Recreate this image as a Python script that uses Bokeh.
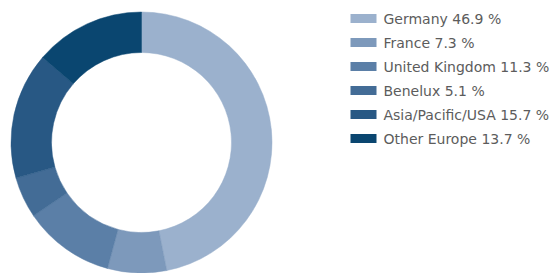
import numpy as np
from bokeh.plotting import figure
from bokeh.models import Range1d, ColumnDataSource
from bokeh.core.properties import value
from bokeh.embed import file_html
from bokeh.resources import INLINE

regions = ["Germany", "France", "United Kingdom", "Benelux", "Asia/Pacific/USA", "Other Europe"]
shares = [46.9, 7.3, 11.3, 5.1, 15.7, 13.7]
colors = ["#9bb1cd", "#7d99bb", "#5b7fa7", "#436c96", "#285884", "#0a4670"]
labels = ["Germany 46.9 %", "France 7.3 %", "United Kingdom 11.3 %", "Benelux 5.1 %",
          "Asia/Pacific/USA 15.7 %", "Other Europe 13.7 %"]

W, H = 555, 273
p = figure(width=W, height=H, output_backend="svg", toolbar_location=None,
           x_range=Range1d(0, W), y_range=Range1d(0, H), min_border=0)
p.axis.visible = False
p.grid.visible = False
p.outline_line_color = None
p.background_fill_color = "white"

frac = np.array(shares) / sum(shares)
cum = np.concatenate([[0], np.cumsum(frac)])
start = np.pi / 2 - 2 * np.pi * cum[:-1]
end = np.pi / 2 - 2 * np.pi * cum[1:]
src = ColumnDataSource(dict(start=start, end=end, color=colors))
p.annular_wedge(x=141, y=H - 142, inner_radius=90, outer_radius=130.5,
                start_angle="start", end_angle="end", direction="clock",
                fill_color="color", line_color="color", line_width=0.5, source=src)

n = len(labels)
ys = [H - 18 - 24 * i for i in range(n)]
leg = ColumnDataSource(dict(y=ys, color=colors, label=labels))
p.rect(x=363, y="y", width=26, height=9, fill_color="color", line_color=None, source=leg)
p.text(x=383, y="y", text="label", source=leg, text_font=value("DejaVu Sans"),
       text_font_size="14px", text_color="#5c5c5c", text_baseline="middle", text_align="left")

open("out.html", "w").write(file_html(p, INLINE))
